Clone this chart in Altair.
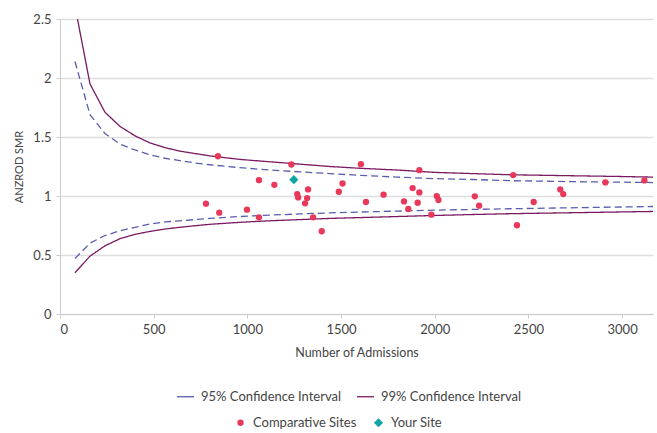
import altair as alt
import pandas as pd

# Confidence-interval funnel
ci_x = [80, 160, 240, 320, 400, 480, 560, 640, 720, 800, 960, 1120, 1280, 1440, 1600, 1800, 2000, 2200, 2400, 2600, 2800, 3000, 3165]
u99 = [2.61, 1.95, 1.71, 1.59, 1.51, 1.45, 1.41, 1.38, 1.36, 1.34, 1.31, 1.29, 1.27, 1.25, 1.235, 1.22, 1.20, 1.19, 1.18, 1.175, 1.17, 1.165, 1.16]
u95 = [2.14, 1.69, 1.53, 1.44, 1.39, 1.35, 1.32, 1.30, 1.28, 1.265, 1.24, 1.22, 1.205, 1.19, 1.175, 1.16, 1.147, 1.14, 1.13, 1.125, 1.12, 1.117, 1.114]
l95 = [0.47, 0.60, 0.665, 0.705, 0.735, 0.762, 0.78, 0.79, 0.80, 0.81, 0.826, 0.838, 0.848, 0.857, 0.864, 0.872, 0.88, 0.886, 0.892, 0.897, 0.902, 0.907, 0.911]
l99 = [0.35, 0.49, 0.578, 0.638, 0.675, 0.70, 0.72, 0.735, 0.748, 0.76, 0.777, 0.79, 0.80, 0.81, 0.817, 0.826, 0.835, 0.843, 0.85, 0.855, 0.86, 0.865, 0.869]

# Comparative sites
comp_x = [779, 843, 850, 998, 1062, 1062, 1144, 1235, 1266, 1271, 1324, 1319, 1308, 1351, 1397,
          1488, 1508, 1606, 1633, 1727, 1836, 1859, 1882, 1918, 1918, 1909, 1982, 2011, 2020,
          2214, 2237, 2419, 2439, 2528, 2670, 2686, 2911, 3119]
comp_y = [0.935, 1.337, 0.859, 0.884, 1.134, 0.819, 1.095, 1.267, 1.016, 0.988, 1.056, 0.982, 0.938, 0.819, 0.701,
          1.036, 1.106, 1.270, 0.949, 1.011, 0.954, 0.890, 1.067, 1.219, 1.030, 0.943, 0.842, 0.999, 0.966,
          0.997, 0.918, 1.177, 0.752, 0.949, 1.056, 1.016, 1.115, 1.132]

# Your site
your_x = [1248]
your_y = [1.138]

CI95 = "95% Confidence Interval"
CI99 = "99% Confidence Interval"
COMP = "Comparative Sites"
YOUR = "Your Site"

rows = []
for name, bound, vals in [(CI95, "upper", u95), (CI95, "lower", l95), (CI99, "upper", u99), (CI99, "lower", l99)]:
    for xv, yv in zip(ci_x, vals):
        rows.append({"x": xv, "y": yv, "ci": name, "bound": bound})
lines_df = pd.DataFrame(rows)

pts_df = pd.DataFrame(
    [{"x": a, "y": b, "site": COMP} for a, b in zip(comp_x, comp_y)]
    + [{"x": a, "y": b, "site": YOUR} for a, b in zip(your_x, your_y)]
)

FONT = "Lato"
xscale = alt.Scale(domain=[0, 3165], nice=False, zero=True)
yscale = alt.Scale(domain=[0, 2.5], nice=False)

xaxis = alt.Axis(title="Number of Admissions", values=[0, 500, 1000, 1500, 2000, 2500, 3000], format="d",
                 grid=False, tickSize=4, labelPadding=5, titlePadding=10)
yaxis = alt.Axis(title="ANZROD SMR", values=[0, 0.5, 1, 1.5, 2, 2.5], format="~g",
                 grid=True, tickSize=4, labelPadding=5, titlePadding=8)

lines = alt.Chart(lines_df).mark_line(strokeWidth=1.3, clip=True).encode(
    x=alt.X("x:Q", scale=xscale, axis=xaxis),
    y=alt.Y("y:Q", scale=yscale, axis=yaxis),
    color=alt.Color("ci:N", scale=alt.Scale(domain=[CI95, CI99], range=["#5a5cae", "#7a1a62"]),
                    legend=alt.Legend(orient="none", direction="horizontal", title=None,
                                      legendX=116, legendY=368, symbolSize=290,
                                      symbolStrokeWidth=1.3, labelOffset=6, columnPadding=12,
                                      labelFontSize=13, labelColor="#444444", labelFont=FONT,
                                      padding=0)),
    strokeDash=alt.StrokeDash("ci:N", scale=alt.Scale(domain=[CI95, CI99], range=[[7, 4], [1, 0]]), legend=None),
    detail="bound:N",
    order="x:Q",
)

pts_legend = alt.Legend(orient="none", direction="horizontal", title=None,
                        legendX=174, legendY=397, labelOffset=6, columnPadding=15,
                        symbolSize=45,
                        labelFontSize=13, labelColor="#444444", labelFont=FONT,
                        padding=0)

points = alt.Chart(pts_df).mark_point(filled=True, opacity=1).encode(
    x=alt.X("x:Q", scale=xscale),
    y=alt.Y("y:Q", scale=yscale),
    color=alt.Color("site:N", scale=alt.Scale(domain=[COMP, YOUR], range=["#e8395b", "#13a4a6"]),
                    legend=pts_legend),
    shape=alt.Shape("site:N", scale=alt.Scale(domain=[COMP, YOUR], range=["circle", "diamond"]),
                    legend=pts_legend),
    size=alt.Size("site:N", scale=alt.Scale(domain=[COMP, YOUR], range=[40, 85]), legend=None),
)

chart = alt.layer(lines, points).resolve_scale(
    color="independent", shape="independent", size="independent"
).properties(
    width=593, height=295,
    autosize=alt.AutoSizeParams(type="none"),
    padding={"left": 60, "top": 19, "right": 4, "bottom": 119},
).configure_view(stroke=None).configure_axis(
    labelFont=FONT, titleFont=FONT, labelFontSize=13, labelColor="#444444",
    titleColor="#444444", titleFontWeight="normal", domainColor="#cccccc",
    tickColor="#cccccc", gridColor="#dedede", gridWidth=1.5,
).configure_axisY(titleFontSize=11).configure_axisX(titleFontSize=12.5)

chart.save("out.html", embed_options={"renderer": "svg", "actions": False})
